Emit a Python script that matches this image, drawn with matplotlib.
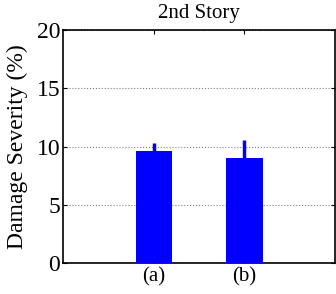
import matplotlib
matplotlib.use('Agg')
import matplotlib.pyplot as plt
import numpy as np

plt.rcParams['font.family'] = ['Liberation Serif', 'DejaVu Serif']

labels = ['(a)', '(b)']
severity = [9.6, 9.05]
err_up = [0.7, 1.55]

fig = plt.figure(figsize=(3.36, 2.94), dpi=100)
ax = fig.add_axes([0.1875, 0.1054, 0.81, 0.7925])

x = np.arange(1, len(labels) + 1)
ax.bar(x, severity, width=0.4, color='#0000ff', zorder=3)
ax.errorbar(x, severity, yerr=[np.zeros(len(err_up)), err_up], fmt='none',
            ecolor='#0000ff', elinewidth=2.5, capsize=0, zorder=3)

ax.set_xlim(0, 3)
ax.set_ylim(0, 20)
ax.set_xticks(x)
ax.set_xticklabels(labels, fontsize=15)
ax.set_yticks([0, 5, 10, 15, 20])
ax.tick_params(axis='y', labelsize=17, pad=2)
ax.tick_params(axis='x', pad=3)
ax.tick_params(direction='in', top=True, right=True, length=3, width=0.8)
ax.yaxis.grid(True, linestyle=':', color='gray', linewidth=0.8)
ax.set_axisbelow(True)
for s in ax.spines.values():
    s.set_linewidth(1.2)

ax.set_ylabel('Damage Severity (%)', fontsize=17, labelpad=6)
ax.set_title('2nd Story', fontsize=15, pad=9)

fig.savefig('out.png', dpi=100)
